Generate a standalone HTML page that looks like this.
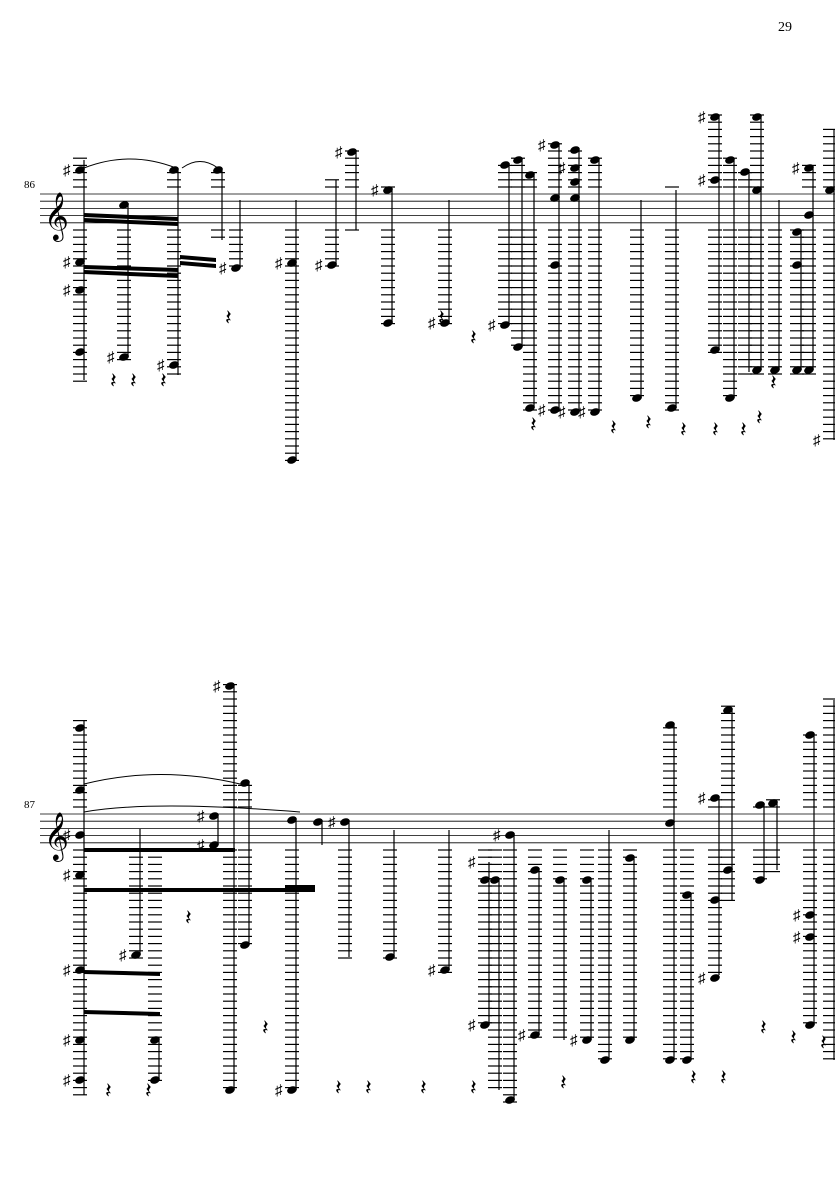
<!DOCTYPE html>
<html><head><meta charset="utf-8"><style>
html,body{margin:0;padding:0;background:#fff;width:835px;height:1181px;overflow:hidden}
svg{position:absolute;left:0;top:0}
text{font-family:"Liberation Serif",serif}
</style></head><body>
<svg id="s" width="835" height="1181" viewBox="0 0 835 1181" xmlns="http://www.w3.org/2000/svg">
<text x="778" y="31" font-size="14">29</text>
<text x="24" y="188" font-size="11">86</text>
<text x="24" y="808" font-size="11">87</text>
<text x="44" y="230" font-size="42">𝄞</text>
<text x="44" y="850" font-size="42">𝄞</text>
</svg>
<script>
var s=document.getElementById('s'),h='';
function L(x1,y1,x2,y2,w){h+='<line x1="'+x1+'" y1="'+y1+'" x2="'+x2+'" y2="'+y2+'" stroke="#000" stroke-width="'+(w||1)+'"/>';}
function staff(t){for(var i=0;i<5;i++)L(40,t+i*7.2,835,t+i*7.2,0.8);}
staff(194);staff(814);
function note(x,y1,y2,heads,top,sh){
 var a=Math.min(y1,y2),b=Math.max(y1,y2);
 for(var y=top-7;y>=a-4;y-=7.2)L(x-7,y,x+7,y,1.2);
 for(var y=top+36;y<=b+4;y+=7.2)L(x-7,y,x+7,y,1.2);
 L(x+4,a,x+4,b,1.2);
 (heads||[]).forEach(function(y){h+='<ellipse cx="'+(x)+'" cy="'+y+'" rx="5" ry="3.6" transform="rotate(-20 '+x+' '+y+')"/>';});
 (sh||[]).forEach(function(y){h+='<text x="'+(x-17)+'" y="'+(y+5)+'" font-size="15" font-family="DejaVu Sans">♯</text>';});
}
function rest(x,y){h+='<text x="'+x+'" y="'+y+'" font-size="22" font-family="DejaVu Sans">𝄽</text>';}
function beam(x1,y1,x2,y2){h+='<polygon points="'+x1+','+y1+' '+x2+','+y2+' '+x2+','+(y2+4)+' '+x1+','+(y1+4)+'"/>';}
var T=194;
var n1=[[80,160,380,[170,262,290,352],[170,262,290]],[124,205,357,[205,357],[357]],[174,170,375,[170,365],[365]],[218,170,240,[170]],[236,200,268,[268],[268]],
[292,200,460,[263,460],[263]],[332,180,265,[265],[265]],[352,152,230,[152],[152]],[388,190,323,[190,323],[190]],[445,200,323,[323],[323]],
[505,165,325,[165,325],[325]],[518,160,347,[160,347]],[530,175,408,[175,408]],[555,145,410,[145,198,265,410],[145,410]],[575,150,412,[150,168,182,198,412],[168,412]],
[595,160,412,[160,412],[412]],[637,200,398,[398]],[672,190,408,[408]],[715,117,350,[117,180,350],[117,180]],[730,160,398,[160,398]],[745,172,372,[172]],
[757,117,370,[117,190,370]],[775,200,370,[370]],[797,232,370,[232,265,370]],[809,168,370,[168,215,370],[168]],[830,130,440,[190],[440]]];
n1.forEach(function(n){note(n[0],n[1],n[2],n[3],T,n[4]);});
beam(84,213,178,217);beam(84,218,178,222);beam(84,265,178,268);beam(84,270,178,274);beam(180,255,216,258);beam(180,261,216,264);
[[530,432],[610,435],[645,430],[680,437],[712,437],[740,437],[756,425],[770,390],[225,325],[110,388],[160,388],[438,325],[470,345],[130,388]].forEach(function(r){rest(r[0],r[1]);});
T=814;
var n2=[[80,720,1095,[728,790,835,875,970,1040,1080],[835,875,970,1040,1080]],[136,829,955,[955],[955]],[155,1040,1080,[1040,1080]],[214,816,845,[816,845],[816,845]],
[230,686,1090,[686,1090],[686]],[245,783,945,[783,945]],[292,820,1090,[820,1090],[1090]],[318,822,845,[822]],[345,822,957,[822],[822]],[390,830,957,[957]],
[445,830,970,[970],[970]],[485,862,1025,[880,1025],[862,1025]],[495,880,1090,[880]],[510,835,1100,[835,1100],[835]],[535,870,1035,[870,1035],[1035]],
[560,880,1040,[880]],[587,880,1040,[880,1040],[1040]],[605,830,1060,[1060]],[630,858,1040,[858,1040]],[670,725,1060,[725,823,1060]],[687,895,1060,[895,1060]],
[715,798,975,[798,900,978],[798,978]],[728,710,900,[710,870]],[760,805,880,[805,880]],[773,803,870,[803]],[810,735,1025,[735,915,937,1025],[915,937]],[830,700,1060,[]]];
n2.forEach(function(n){note(n[0],n[1],n[2],n[3],T,n[4]);});
beam(84,848,235,848);beam(84,888,315,888);beam(84,970,160,972);beam(84,1010,160,1012);beam(285,885,315,885);
[[335,1095],[365,1095],[420,1095],[470,1095],[560,1090],[690,1085],[720,1085],[760,1035],[790,1045],[820,1050],[262,1035],[185,925],[105,1098],[145,1098]].forEach(function(r){rest(r[0],r[1]);});
h+='<path d="M84 168 Q130 150 176 168" fill="none" stroke="#000"/><path d="M182 168 Q200 155 218 168" fill="none" stroke="#000"/>';
h+='<path d="M84 784 Q160 765 240 784" fill="none" stroke="#000"/><path d="M84 812 Q150 800 300 812" fill="none" stroke="#000"/>';
s.insertAdjacentHTML('beforeend',h);
</script>
</body></html>
